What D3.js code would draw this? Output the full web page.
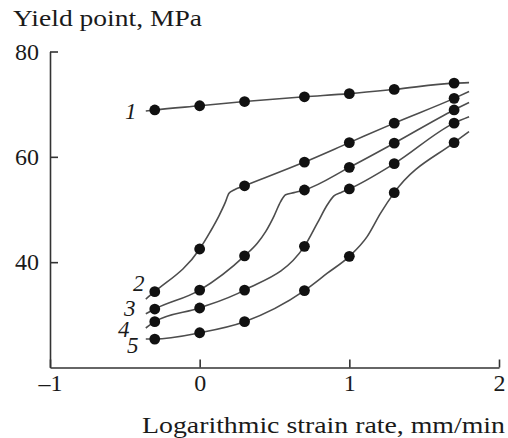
<!DOCTYPE html>
<html>
<head>
<meta charset="utf-8">
<script src="https://cdn.jsdelivr.net/npm/d3@7"></script>
<style>
    body { margin: 0; background: #fff; }
    svg text { font-family: "Liberation Serif", "Times New Roman", serif; fill: #1a1a1a; }
</style>
</head>
<body>
<div id="chart-area"></div>
<script>

// log strain rate (mm/min) where the dots were measured
var rates = [-0.3, 0, 0.3, 0.7, 1.0, 1.3, 1.7];

// yield point, MPa, for curves 1..5
var yield1 = [68.9, 69.7, 70.5, 71.4, 72.0, 72.8, 74.0];
var yield2 = [34.4, 42.5, 54.5, 59.0, 62.7, 66.4, 71.1];
var yield3 = [31.1, 34.7, 41.2, 53.7, 58.0, 62.6, 68.9];
var yield4 = [28.7, 31.3, 34.7, 43.0, 53.9, 58.7, 66.4];
var yield5 = [25.4, 26.6, 28.7, 34.6, 41.1, 53.2, 62.7];

// extra vertices of the drawn curves (no dot there), [rate, MPa]
var bend1 = [[-0.36, 68.7], [1.80, 74.1]];
var bend2 = [[-0.36, 33.0], [0.069, 45.7], [0.129, 48.8], [0.169, 51.2], [0.196, 53.1], [0.229, 53.7], [1.80, 72.4]];
var bend3 = [[-0.36, 30.2], [0.385, 43.6], [0.441, 45.8], [0.496, 48.7], [0.541, 51.5], [0.574, 52.8], [0.63, 53.2], [1.80, 70.3]];
var bend4 = [[-0.36, 27.5], [0.786, 47.4], [0.853, 50.9], [0.897, 52.6], [0.942, 53.2], [1.80, 67.6]];
var bend5 = [[-0.36, 25.4], [0.853, 37.9], [1.12, 44.9], [1.209, 49.3], [1.80, 64.8]];

var curveNames = ["1", "2", "3", "4", "5"];
var xTicks = [-1, 0, 1, 2];
var yTicks = [40, 60, 80];


/*
 * Build the chart
 */

var width = 508,
    height = 438;

var svg = d3.select("#chart-area").append("svg")
    .attr("width", width)
    .attr("height", height);

var x = d3.scaleLinear().domain([-1, 2]).range([50, 499]);
var y = d3.scaleLinear().domain([20, 80]).range([367.5, 51.5]);

var series = [yield1, yield2, yield3, yield4, yield5].map(function(vals, i) {
    var dots = rates.map(function(r, j) { return [r, vals[j]]; });
    var bends = [bend1, bend2, bend3, bend4, bend5][i];
    var trace = dots.concat(bends).sort(function(a, b) { return a[0] - b[0]; });
    return { name: curveNames[i], dots: dots, trace: trace };
});

var line = d3.line()
    .x(function(d) { return x(d[0]); })
    .y(function(d) { return y(d[1]); })
    .curve(d3.curveMonotoneX);

// axes
var xAxis = d3.axisBottom(x)
    .tickValues(xTicks)
    .tickSizeInner(-8)
    .tickSizeOuter(0)
    .tickPadding(6)
    .tickFormat(function(d) { return d < 0 ? "\u2013" + Math.abs(d) : d; });

var yAxis = d3.axisLeft(y)
    .tickValues(yTicks)
    .tickSizeInner(-8)
    .tickSizeOuter(0)
    .tickPadding(11);

var gx = svg.append("g")
    .attr("transform", "translate(0," + y(20) + ")")
    .call(xAxis);

var gy = svg.append("g")
    .attr("transform", "translate(" + x(-1) + ",0)")
    .call(yAxis);

[gx, gy].forEach(function(g) {
    g.selectAll(".domain, .tick line")
        .attr("stroke", "#333")
        .attr("stroke-width", 1.6);
    g.selectAll(".tick text")
        .attr("font-size", 24)
        .attr("fill", "#1a1a1a")
        .style("font-family", "'Liberation Serif', serif");
});

// curves
svg.selectAll(".curve")
    .data(series)
    .enter().append("path")
    .attr("class", "curve")
    .attr("d", function(d) { return line(d.trace); })
    .attr("fill", "none")
    .attr("stroke", "#4d4d4d")
    .attr("stroke-width", 1.6);

svg.selectAll(".dots")
    .data(series)
    .enter().append("g")
    .attr("class", "dots")
    .selectAll("circle")
    .data(function(d) { return d.dots; })
    .enter().append("circle")
    .attr("cx", function(d) { return x(d[0]); })
    .attr("cy", function(d) { return y(d[1]); })
    .attr("r", 5.4)
    .attr("fill", "#111");

// curve numbers, nudged from the first dot
var labelNudge = [[-24, 9], [-16, -1], [-25, 7], [-31, 15], [-22, 14]];

svg.selectAll(".curve-label")
    .data(series)
    .enter().append("text")
    .attr("class", "curve-label")
    .attr("x", function(d, i) { return x(d.dots[0][0]) + labelNudge[i][0]; })
    .attr("y", function(d, i) { return y(d.dots[0][1]) + labelNudge[i][1]; })
    .attr("text-anchor", "middle")
    .attr("font-size", 23)
    .attr("font-style", "italic")
    .text(function(d) { return d.name; });

// axis titles
svg.append("text")
    .attr("x", 13)
    .attr("y", 26)
    .attr("font-size", 24)
    .attr("textLength", 189)
    .attr("lengthAdjust", "spacingAndGlyphs")
    .text("Yield point, MPa");

svg.append("text")
    .attr("x", 142)
    .attr("y", 433)
    .attr("font-size", 24)
    .attr("textLength", 363)
    .attr("lengthAdjust", "spacingAndGlyphs")
    .text("Logarithmic strain rate, mm/min");

</script>
</body>
</html>
